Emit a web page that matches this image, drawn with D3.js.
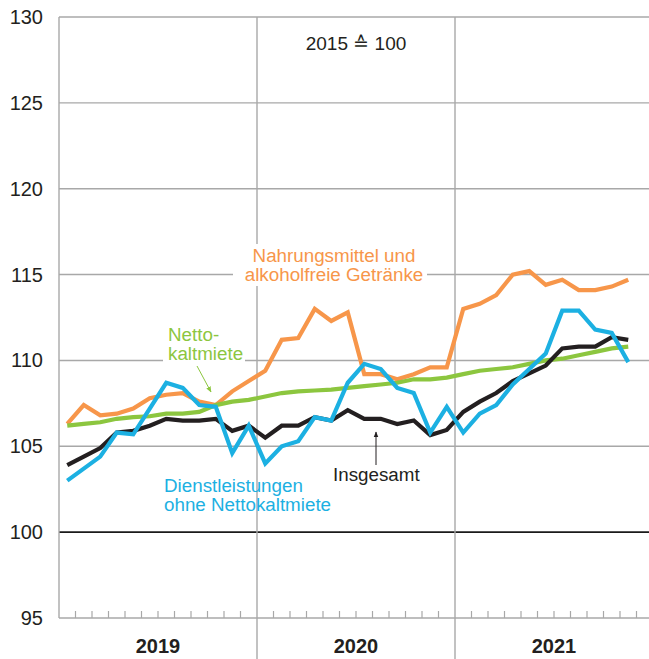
<!DOCTYPE html>
<html>
<head>
<meta charset="utf-8">
<script src="https://cdn.jsdelivr.net/npm/d3@7"></script>
<style>
  body { margin: 0; background: #fff; }
  svg text { font-family: "Liberation Sans", Arial, sans-serif; }
</style>
</head>
<body>
<div id="chart"></div>
<script>
// months Jan 2019 .. Nov 2021
const years = ["2019", "2020", "2021"];
const yTicks = [95, 100, 105, 110, 115, 120, 125, 130];

const nahrung = [106.3, 107.4, 106.8, 106.9, 107.2, 107.8, 108.0, 108.1, 107.6, 107.4, 108.2, 108.8,
                 109.4, 111.2, 111.3, 113.0, 112.3, 112.8, 109.2, 109.2, 108.9, 109.2, 109.6, 109.6,
                 113.0, 113.3, 113.8, 115.0, 115.2, 114.4, 114.7, 114.1, 114.1, 114.3, 114.7];
const miete = [106.2, 106.3, 106.4, 106.6, 106.7, 106.75, 106.9, 106.9, 107.0, 107.4, 107.6, 107.7,
               107.9, 108.1, 108.2, 108.25, 108.3, 108.4, 108.5, 108.6, 108.7, 108.9, 108.9, 109.0,
               109.2, 109.4, 109.5, 109.6, 109.8, 110.0, 110.1, 110.3, 110.5, 110.7, 110.8];
const insgesamt = [103.9, 104.4, 104.9, 105.8, 105.9, 106.2, 106.6, 106.5, 106.5, 106.6, 105.9, 106.2,
                   105.5, 106.2, 106.2, 106.7, 106.5, 107.1, 106.6, 106.6, 106.3, 106.5, 105.65, 105.95,
                   107.0, 107.6, 108.1, 108.8, 109.25, 109.7, 110.7, 110.8, 110.8, 111.35, 111.2];
const dienst = [103.0, 103.7, 104.4, 105.8, 105.7, 107.2, 108.7, 108.4, 107.4, 107.3, 104.6, 106.2,
                104.0, 105.0, 105.3, 106.7, 106.5, 108.7, 109.8, 109.5, 108.4, 108.1, 105.8, 107.3,
                105.8, 106.9, 107.4, 108.6, 109.5, 110.4, 112.9, 112.9, 111.8, 111.6, 109.9];

const W = 649, H = 659;
const mLeft = 59, mTop = 17, mBottom = 618;

const svg = d3.select("#chart").append("svg")
    .attr("width", W)
    .attr("height", H);

const x = d3.scaleLinear().domain([0, 36]).range([mLeft, mLeft + 16.5 * 36]);
const y = d3.scaleLinear().domain([95, 130]).range([mBottom, mTop]);

// horizontal grid
svg.append("g")
    .selectAll("line")
    .data(yTicks)
    .join("line")
    .attr("x1", mLeft).attr("x2", W)
    .attr("y1", d => y(d)).attr("y2", d => y(d))
    .attr("stroke", d => d === 100 ? "#1a1a1a" : "#a8a8a8")
    .attr("stroke-width", d => d === 100 ? 1.6 : 1.4);

// left axis line
svg.append("line")
    .attr("x1", mLeft).attr("x2", mLeft)
    .attr("y1", mTop).attr("y2", mBottom)
    .attr("stroke", "#a8a8a8").attr("stroke-width", 1.4);

// year separators
svg.append("g")
    .selectAll("line")
    .data([12, 24])
    .join("line")
    .attr("x1", d => x(d)).attr("x2", d => x(d))
    .attr("y1", mTop).attr("y2", H)
    .attr("stroke", "#a8a8a8").attr("stroke-width", 1.4);

// month ticks
svg.append("g")
    .selectAll("line")
    .data(d3.range(1, 36).filter(m => m % 12 !== 0))
    .join("line")
    .attr("x1", d => x(d)).attr("x2", d => x(d))
    .attr("y1", mBottom - 7).attr("y2", mBottom)
    .attr("stroke", "#a8a8a8").attr("stroke-width", 1.2);

// y labels
svg.append("g")
    .selectAll("text")
    .data(yTicks)
    .join("text")
    .attr("x", 43)
    .attr("y", d => y(d) + 7)
    .attr("text-anchor", "end")
    .attr("font-size", 20)
    .attr("fill", "#231f20")
    .text(d => d);

// year labels
svg.append("g")
    .selectAll("text")
    .data(years)
    .join("text")
    .attr("x", (d, i) => x(i * 12 + 6))
    .attr("y", 653)
    .attr("text-anchor", "middle")
    .attr("font-size", 20)
    .attr("font-weight", "bold")
    .attr("fill", "#231f20")
    .text(d => d);

svg.append("text")
    .attr("x", 356).attr("y", 50)
    .attr("text-anchor", "middle")
    .attr("font-size", 19)
    .attr("fill", "#231f20")
    .text("2015 \u2259 100");

// white boxes behind labels that sit on grid lines
svg.append("rect").attr("x", 233).attr("y", 244).attr("width", 194).attr("height", 42).attr("fill", "#fff");
svg.append("rect").attr("x", 163).attr("y", 322).attr("width", 82).attr("height", 42).attr("fill", "#fff");

const line = d3.line()
    .x((d, i) => x(i + 0.5))
    .y(d => y(d));

const series = [
    { values: nahrung, color: "#f7964a" },
    { values: miete, color: "#8cc63f" },
    { values: insgesamt, color: "#231f20" },
    { values: dienst, color: "#1cb0e2" }
];

svg.append("g")
    .selectAll("path")
    .data(series)
    .join("path")
    .attr("d", d => line(d.values))
    .attr("fill", "none")
    .attr("stroke", d => d.color)
    .attr("stroke-width", 4.2)
    .attr("stroke-linejoin", "miter");

// labels
function label(lines, xx, yy, color, anchor) {
    const t = svg.append("text")
        .attr("font-size", 18.8)
        .attr("fill", color)
        .attr("text-anchor", anchor);
    lines.forEach((s, i) => {
        t.append("tspan").attr("x", xx).attr("y", yy + i * 18.5).text(s);
    });
}
label(["Nahrungsmittel und", "alkoholfreie Getränke"], 334, 262, "#f7964a", "middle");
label(["Netto-", "kaltmiete"], 168, 341, "#8cc63f", "start");
label(["Insgesamt"], 333, 481, "#231f20", "start");
label(["Dienstleistungen", "ohne Nettokaltmiete"], 164, 492, "#1cb0e2", "start");

// arrows
svg.append("defs").selectAll("marker")
    .data([["g", "#8cc63f"], ["k", "#231f20"]])
    .join("marker")
    .attr("id", d => "arr-" + d[0])
    .attr("viewBox", "0 0 10 10")
    .attr("refX", 9).attr("refY", 5)
    .attr("markerWidth", 6).attr("markerHeight", 6)
    .attr("orient", "auto")
    .append("path")
    .attr("d", "M0,1 L10,5 L0,9 Z")
    .attr("fill", d => d[1]);

svg.append("line")
    .attr("x1", 197).attr("y1", 366).attr("x2", 211).attr("y2", 392)
    .attr("stroke", "#8cc63f").attr("stroke-width", 1)
    .attr("marker-end", "url(#arr-g)");
svg.append("line")
    .attr("x1", 376).attr("y1", 465).attr("x2", 376).attr("y2", 432)
    .attr("stroke", "#231f20").attr("stroke-width", 1)
    .attr("marker-end", "url(#arr-k)");
</script>
</body>
</html>
